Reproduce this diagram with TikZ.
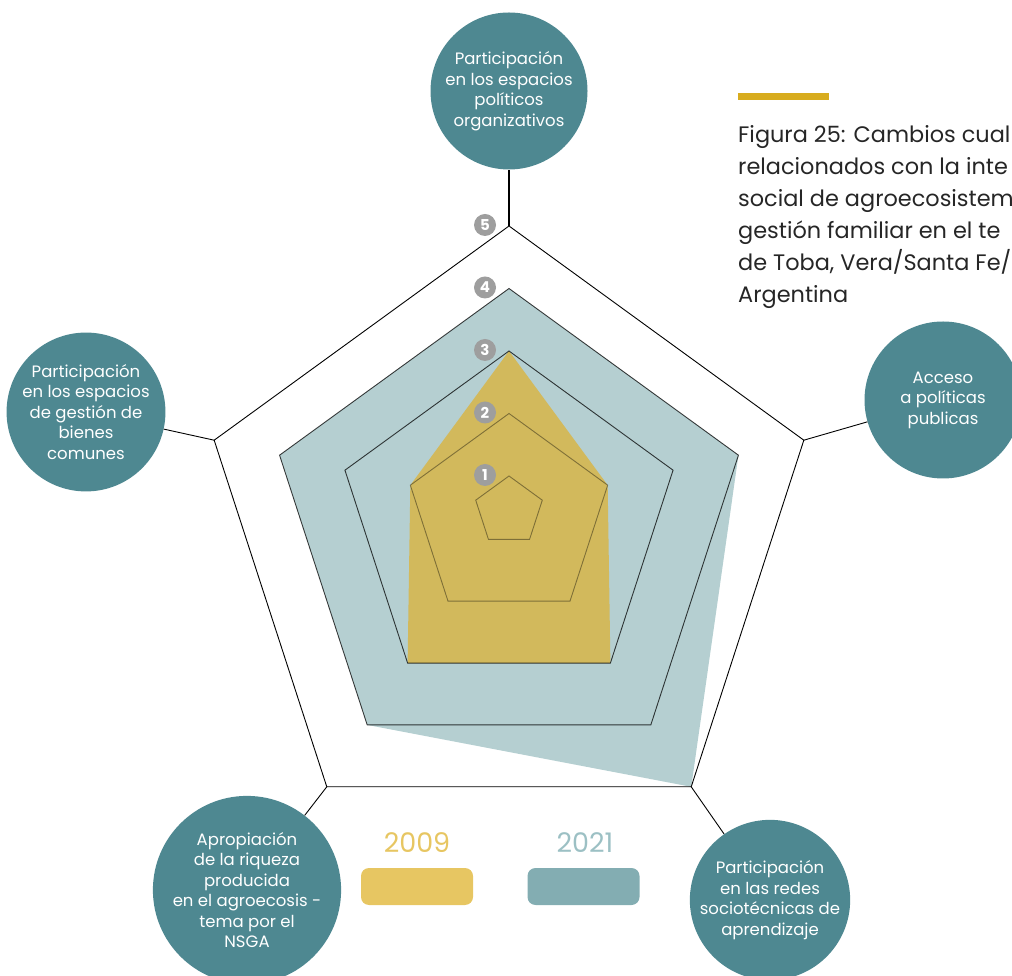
\documentclass[tikz,border=0pt]{standalone}
\usepackage{fontspec}
\setmainfont{Poppins}
\usetikzlibrary{calc}
\definecolor{ejeazul}{HTML}{4E8891}
\definecolor{oro}{HTML}{D2B95C}
\definecolor{celeste}{HTML}{B5CFD1}
\definecolor{leyoro}{HTML}{E7C662}
\definecolor{leyceleste}{HTML}{83ADB2}
\definecolor{txtceleste}{HTML}{9CC0C4}
\definecolor{gris}{HTML}{9E9E9E}
\definecolor{raya}{HTML}{D8AC1E}
\tikzset{
  eje/.style={circle, fill=ejeazul, text=white, minimum size=157pt,
    inner sep=0pt, align=center, font=\fontsize{16.5}{20.5}\selectfont},
  nivel/.style={circle, fill=gris, text=white, minimum size=22pt,
    inner sep=0pt, font=\fontsize{15}{15}\selectfont\bfseries},
  malla/.style={draw=black, line width=0.9pt, line join=miter},
  barra/.style={rounded corners=8pt, minimum width=112pt, minimum height=37pt},
  anio/.style={font=\fontsize{27}{27}\selectfont},
  texto/.style={anchor=base west, inner sep=0pt, text=black!85,
    font=\fontsize{22.4}{32}\selectfont}
}

\begin{document}
\begin{tikzpicture}[x=1pt,y=1pt]
\useasboundingbox (0,0) rectangle (1012,975);
\clip (0,0) rectangle (1012,975);

% vertices de los niveles
\foreach \k in {1,...,5}{
  \pgfmathsetmacro\r{35+68.75*(\k-1)}
  \pgfmathsetmacro\cy{464-6.25*(\k-1)}
  \foreach \a [count=\i] in {90,18,-54,-126,162}
    \coordinate (L\k-\i) at ($(509,\cy)+(\a:\r)$);
}

% datos
\fill[celeste] (L4-1) -- (L4-2) -- (L5-3) -- (L4-4) -- (L4-5) -- cycle;
\fill[oro] (L3-1) -- (L2-2) -- (L3-3) -- (L3-4) -- (L2-5) -- cycle;

% malla
\foreach \k/\o in {1/0.4,2/0.4,3/0.75,4/0.75,5/1}
  \draw[malla, draw opacity=\o] (L\k-1) -- (L\k-2) -- (L\k-3) -- (L\k-4) -- (L\k-5) -- cycle;

% ejes
\node[eje] (arriba) at (509,884) {Participación\\en los espacios\\políticos\\organizativos};
\node[eje] (derecha) at (943,575) {Acceso\\a políticas\\publicas};
\node[eje] (abajoder) at (770,75) {Participación\\en las redes\\sociotécnicas de\\aprendizaje};
\node[eje] (abajoizq) at (247,85) {Apropiación\\de la riqueza\\producida\\en el agroecosis -\\tema por el\\NSGA};
\node[eje] (izquierda) at (86,563) {Participación\\en los espacios\\de gestión de\\bienes\\comunes};

\draw[line width=1.6pt] (L5-1) -- (arriba);
\draw[line width=0.9pt] (L5-2) -- (derecha);
\draw[line width=0.9pt] (L5-3) -- (abajoder);
\draw[line width=0.9pt] (L5-4) -- (abajoizq);
\draw[line width=0.9pt] (L5-5) -- (izquierda);

% marcas de nivel
\foreach \k in {1,...,5}
  \node[nivel] (m\k) at ($(L\k-1)+(-24,1)$) {\k};

% leyenda
\node[anio, text=leyoro] (t2009) at (417,132) {2009};
\node[anio, text=txtceleste] (t2021) at (585,132) {2021};
\node[barra, fill=leyoro] (b2009) at (417,88.5) {};
\node[barra, fill=leyceleste] (b2021) at (583.5,88.5) {};

% titulo
\draw[raya, line width=7pt] (738,878) coordinate (r1) -- (829,878) coordinate (r2);
\foreach \t [count=\i] in {Figura 25: Cambios cual, relacionados con la inte,
    social de agroecosistem, gestión familiar en el te,
    {de Toba, Vera/Santa Fe/}, Argentina}
  \node[texto] (cap\i) at (738,{975-143-32*(\i-1)}) {\t};
\end{tikzpicture}
\end{document}
